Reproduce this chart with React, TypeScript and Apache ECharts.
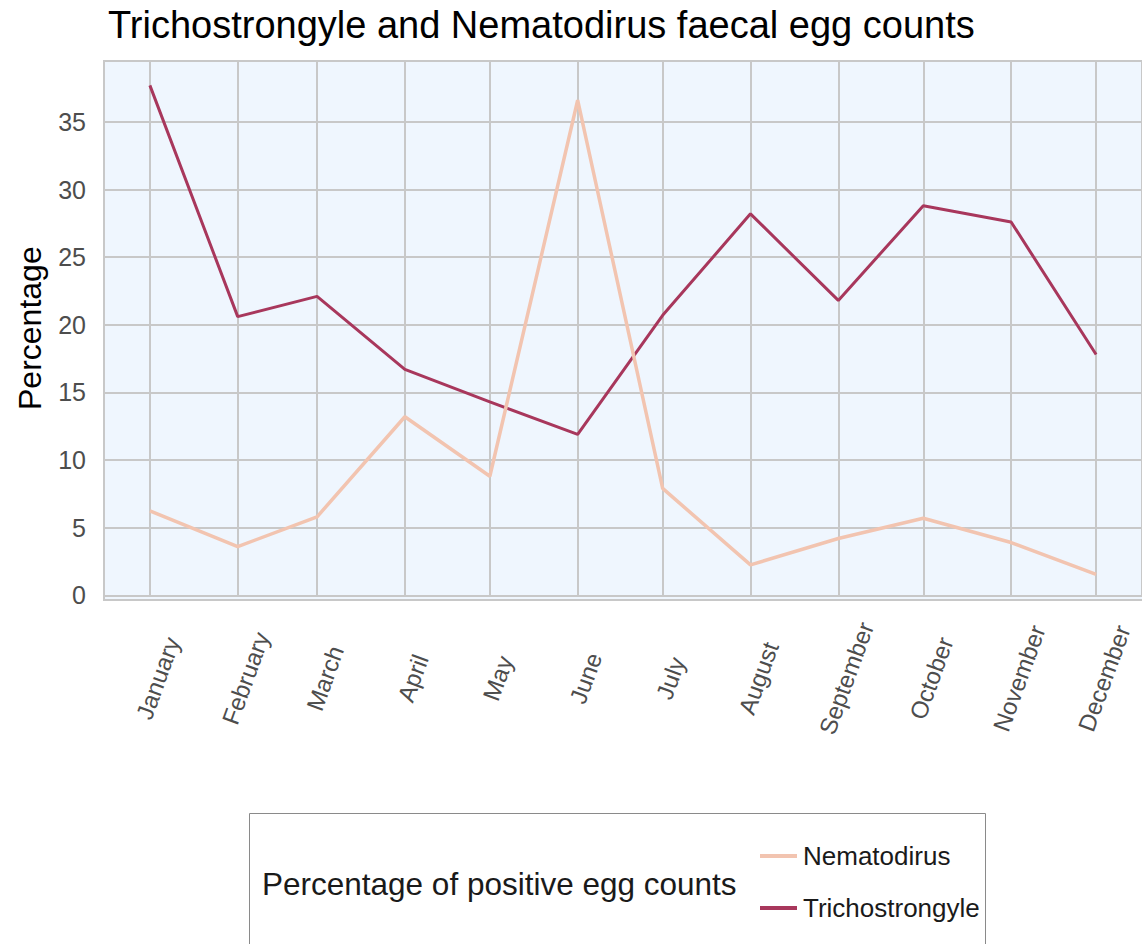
import React, { useEffect, useRef } from "react";
import * as echarts from "echarts";

const months = [
  "January", "February", "March", "April", "May", "June",
  "July", "August", "September", "October", "November", "December",
];
const nematodirus = [6.25, 3.6, 5.8, 13.2, 8.8, 36.6, 7.9, 2.25, 4.2, 5.7, 3.9, 1.55];
const trichostrongyle = [37.7, 20.6, 22.1, 16.7, 14.3, 11.9, 20.7, 28.2, 21.8, 28.8, 27.6, 17.8];
const yInterval = 5;
const yMin = 0;
const yMax = 39.5;
const year = 2019;

const DAY = 86400000;
const FONT = "'Liberation Sans', Arial, sans-serif";

export default function App() {
  const ref = useRef<HTMLDivElement>(null);
  useEffect(() => {
    if (!ref.current) return;
    const chart = echarts.init(ref.current, undefined, { renderer: "svg" });
    const dates = months.map((_, i) => Date.UTC(year, i, 1));
    const xMin = dates[0] - 16.2 * DAY;
    const xMax = dates[dates.length - 1] + 16.2 * DAY;
    const option = {
      animation: false,
      useUTC: true,
      backgroundColor: "#ffffff",
      title: [
        {
          text: "Trichostrongyle and Nematodirus faecal egg counts",
          left: 103,
          top: 1,
          textStyle: { fontFamily: FONT, fontSize: 38, fontWeight: "normal", color: "#000000" },
        },
        {
          text: "Percentage of positive egg counts",
          left: 257,
          top: 863,
          textStyle: { fontFamily: FONT, fontSize: 31.5, fontWeight: "normal", color: "#1a1a1a" },
        },
      ],
      graphic: [
        {
          type: "rect",
          z: -100,
          silent: true,
          shape: { x: 104, y: 61, width: 1100, height: 539 },
          style: { fill: "#EFF6FE", stroke: "#C8C8C8", lineWidth: 2 },
        },
        {
          type: "rect",
          silent: true,
          shape: { x: 249.5, y: 813.5, width: 736, height: 200 },
          style: { fill: "none", stroke: "#8a8a8a", lineWidth: 1 },
        },
      ],
      legend: {
        orient: "vertical",
        left: 755,
        top: 838,
        data: ["Nematodirus", "Trichostrongyle"],
        icon: "rect",
        itemWidth: 37,
        itemHeight: 4,
        itemGap: 26,
        textStyle: {
          fontFamily: FONT,
          fontSize: 26,
          color: "#1a1a1a",
          lineHeight: 26,
          padding: [0, 0, 0, 1],
        },
      },
      grid: { left: 104, right: 0, top: 61, bottom: 348.7, containLabel: false },
      xAxis: {
        type: "time",
        min: xMin,
        max: xMax,
        splitNumber: 12,
        axisLine: { show: false },
        axisTick: { show: false },
        splitLine: { show: true, lineStyle: { color: "#C8C8C8", width: 2 } },
        axisLabel: {
          showMinLabel: false,
          showMaxLabel: false,
          rotate: 70,
          align: "center",
          verticalAlign: "middle",
          padding: [17, 0, 0, 0],
          margin: 80,
          fontFamily: FONT,
          fontSize: 24,
          color: "#4D4D4D",
          formatter: (v: number) => months[new Date(v).getUTCMonth()],
        },
      },
      yAxis: {
        type: "value",
        min: yMin,
        max: yMax,
        interval: yInterval,
        name: "Percentage",
        nameLocation: "middle",
        nameGap: 58,
        nameTextStyle: { fontFamily: FONT, fontSize: 32, color: "#000000" },
        axisLine: { show: false },
        axisTick: { show: false },
        splitLine: { show: true, lineStyle: { color: "#C8C8C8", width: 2 } },
        axisLabel: {
          showMaxLabel: false,
          margin: 18,
          fontFamily: FONT,
          fontSize: 25,
          color: "#4D4D4D",
        },
      },
      series: [
        {
          name: "Trichostrongyle",
          type: "line",
          symbol: "none",
          data: dates.map((d, i) => [d, trichostrongyle[i]]),
          lineStyle: { color: "#A8375C", width: 3 },
          itemStyle: { color: "#A8375C" },
        },
        {
          name: "Nematodirus",
          type: "line",
          symbol: "none",
          data: dates.map((d, i) => [d, nematodirus[i]]),
          lineStyle: { color: "#F2C4B0", width: 3.5 },
          itemStyle: { color: "#F2C4B0" },
        },
      ],
    };
    chart.setOption(option as any);
    return () => chart.dispose();
  }, []);
  return (
    <div
      ref={ref}
      style={{ position: "fixed", left: 0, top: 0, width: 1142, height: 944 }}
    />
  );
}
